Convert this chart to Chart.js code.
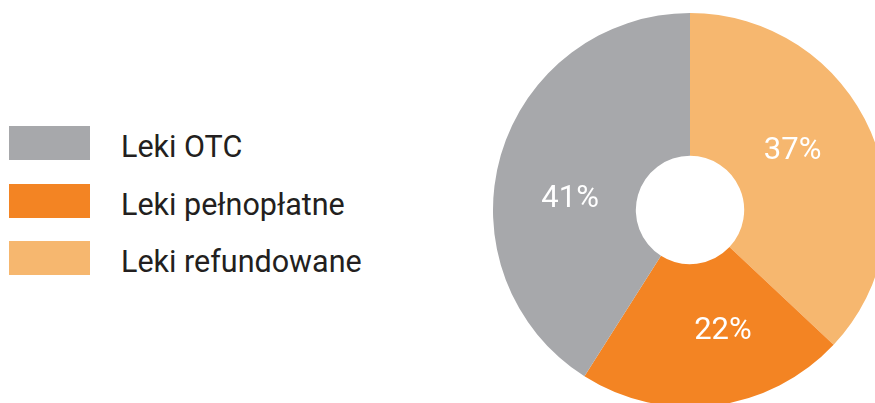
<!DOCTYPE html>
<html>
<head>
<meta charset="utf-8">
<script src="https://cdn.jsdelivr.net/npm/chart.js@4/dist/chart.umd.min.js"></script>
<style>
    html, body { margin: 0; padding: 0; background: #fff; width: 875px; height: 403px; overflow: hidden; position: relative; }
    #legend { position: absolute; left: 9px; top: 126px; font-family: Roboto, sans-serif; color: #231f20; }
    .item { position: relative; height: 34px; margin-bottom: 23.5px; }
    .box { position: absolute; left: 0; top: 0; width: 81px; height: 34px; }
    .txt { position: absolute; left: 112px; top: 4px; font-size: 30.5px; line-height: 34px; white-space: nowrap; }
    #wrap { position: absolute; left: 490px; top: 10px; width: 400px; height: 400px; }
</style>
</head>
<body>
<div id="legend"></div>
<div id="wrap"><canvas id="pie" width="400" height="400"></canvas></div>
<script>
// legend order (top to bottom)
const categories = ["Leki OTC", "Leki pełnopłatne", "Leki refundowane"];
const shares = [41, 22, 37];
const colors = ["#a7a8ab", "#f38423", "#f6b76f"];

// slices go clockwise from 12 o'clock: refundowane, pełnopłatne, OTC
const chartOrder = [2, 1, 0];

let legend = document.getElementById("legend");
categories.forEach((name, i) => {
    let item = document.createElement("div");
    item.className = "item";
    item.innerHTML = `<div class="box" style="background:${colors[i]}"></div><div class="txt">${name}</div>`;
    legend.appendChild(item);
});

// percent labels drawn inside each arc
const sliceLabels = {
    id: "sliceLabels",
    afterDatasetsDraw(chart) {
        const c = chart.ctx;
        const meta = chart.getDatasetMeta(0);
        c.save();
        c.fillStyle = "#ffffff";
        c.font = "400 31px Roboto, sans-serif";
        c.textAlign = "center";
        c.textBaseline = "middle";
        meta.data.forEach((arc, i) => {
            const a = (arc.startAngle + arc.endAngle) / 2 - 0.15; // labels sit a bit before the middle
            const r = 121;
            const x = arc.x + Math.cos(a) * r;
            const y = arc.y + Math.sin(a) * r + 5;
            c.fillText(chart.data.datasets[0].data[i] + "%", x, y);
        });
        c.restore();
    }
};

let ctx = document.getElementById("pie").getContext("2d");
let pieChart = new Chart(ctx, {
    type: "doughnut",
    data: {
        labels: chartOrder.map(i => categories[i]),
        datasets: [{
            data: chartOrder.map(i => shares[i]),
            backgroundColor: chartOrder.map(i => colors[i]),
            borderWidth: 0
        }]
    },
    options: {
        responsive: false,
        animation: false,
        radius: 197,
        cutout: 55,
        layout: { padding: 0 },
        plugins: {
            legend: { display: false },
            tooltip: { enabled: false }
        }
    },
    plugins: [sliceLabels]
});
</script>
</body>
</html>
